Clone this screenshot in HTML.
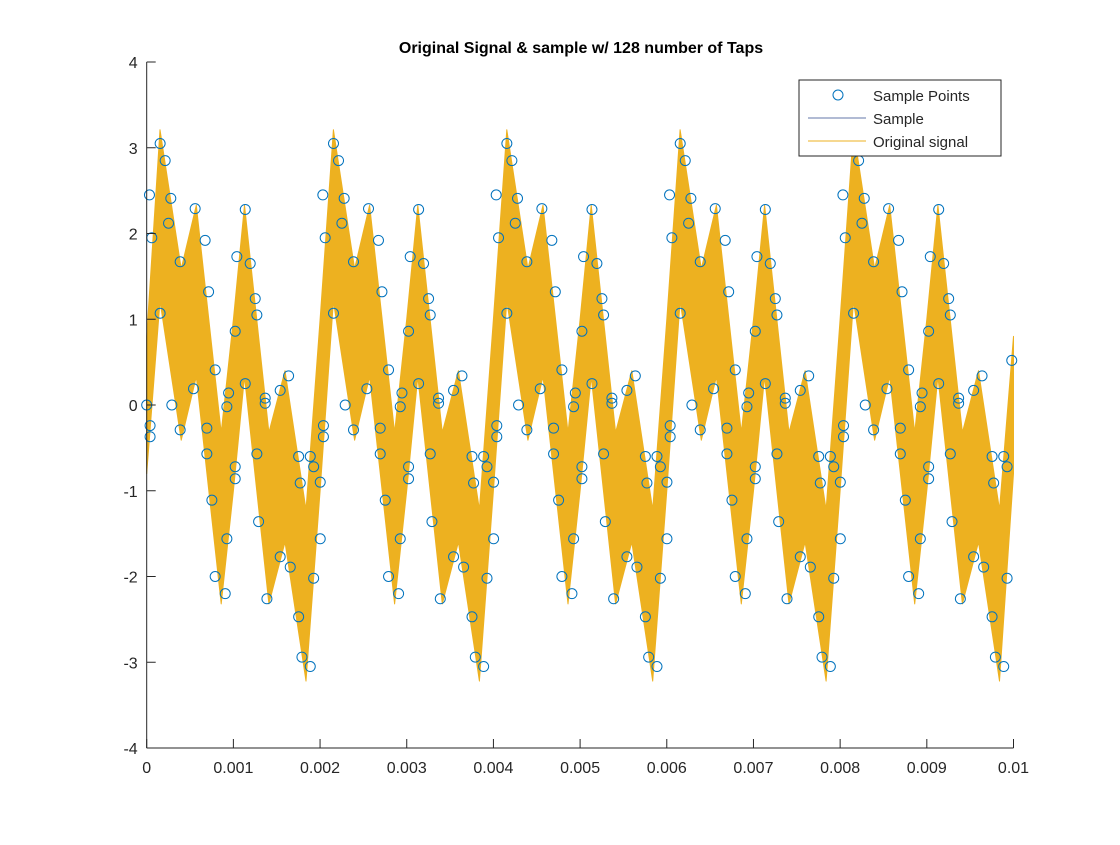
<!DOCTYPE html>
<html><head><meta charset="utf-8"><style>
body{margin:0;background:#fff;}
svg text{font-family:"Liberation Sans",Arial,sans-serif;fill:#262626;}
</style></head><body>
<svg id="chart" width="1120" height="840" viewBox="0 0 1120 840" xmlns="http://www.w3.org/2000/svg">
<rect width="1120" height="840" fill="#fff"/>
<text x="581" y="53" text-anchor="middle" font-size="16" font-weight="bold" style="fill:#000">Original Signal &amp; sample w/ 128 number of Taps</text>
<g id="plot"></g>
<g id="axes"></g>
<g>
<rect x="799" y="80" width="202" height="76" fill="#fff" stroke="#262626" stroke-width="1"/>
<g><circle cx="838" cy="95" r="5" fill="none" stroke="#0072BD" stroke-width="1"/><text x="873" y="101" font-size="15">Sample Points</text></g>
<g><line x1="808" y1="118" x2="866" y2="118" stroke="#2F4A8C" stroke-width="0.8"/><text x="873" y="124" font-size="15">Sample</text></g>
<g><line x1="808" y1="141" x2="866" y2="141" stroke="#EDB120" stroke-width="1"/><text x="873" y="147" font-size="15">Original signal</text></g>
</g>
</svg>
<script>
// one period (0.002 s) of the original signal's centre curve; phase in fraction of period
const centerPhase = [0, 0.077, 0.199, 0.286, 0.43, 0.5, 0.564, 0.705, 0.798, 0.919, 1.0];
const centerVals  = [0, 2.21, 0.59, 1.33, -1.32, 0, 1.33, -1.32, -0.6, -2.22, 0];
const bandHalfWidth = [1.0];
const periodMs = [2];
// sample points in one period (t in ms, value)
const sampleT = [2.155,2.213,2.032,2.278,2.252,2.059,2.674,2.559,2.386,3.040,3.137,3.194,2.714,2.155,3.252,3.271,3.021,2.790,2.540,3.137,2.945,3.367,3.540,3.637,
2.290,2.039,2.039,2.386,2.694,2.925,2.694,3.021,3.021,2.752,2.925,2.790,2.906,3.367,3.271,3.753,3.887,3.926,4.002,3.771,3.291,3.540,3.656,3.926,4.002,3.387,3.753,3.791,3.887];
const sampleV = [3.05,2.85,2.45,2.41,2.12,1.95,1.92,2.29,1.67,1.73,2.28,1.65,1.32,1.07,1.24,1.05,0.86,0.41,0.19,0.25,0.14,0.08,0.17,0.34,
0.00,-0.24,-0.37,-0.29,-0.27,-0.02,-0.57,-0.72,-0.86,-1.11,-1.56,-2.00,-2.20,0.02,-0.57,-0.60,-0.60,-0.72,-0.90,-0.91,-1.36,-1.77,-1.89,-2.02,-1.56,-2.26,-2.47,-2.94,-3.05];
const xTicks = [0,0.001,0.002,0.003,0.004,0.005,0.006,0.007,0.008,0.009,0.01];
const xTickLabels = ["0","0.001","0.002","0.003","0.004","0.005","0.006","0.007","0.008","0.009","0.01"];
const yTicks = [-4,-3,-2,-1,0,1,2,3,4];

const X0=146.7, X1=1013.5, Y0=748, Y1=62;
function xs(t){return X0+(t/0.01)*(X1-X0);} // t in seconds
function ys(v){return Y0-(v+4)/8*(Y0-Y1);}
const NS="http://www.w3.org/2000/svg";
const plot=document.getElementById('plot'), axes=document.getElementById('axes');

const P=periodMs[0], hw=bandHalfWidth[0];
let up=[], lo=[];
for(let k=0;k<5;k++){
  for(let i=0;i<centerPhase.length;i++){
    if(k>0&&i===0) continue;
    const t=(k+centerPhase[i])*P/1000, c=centerVals[i];
    up.push([xs(t),ys(c+hw)]); lo.push([xs(t),ys(c-hw)]);
  }
}
up[0][1]=ys(0.8); lo[0][1]=ys(-0.8);
up[up.length-1][1]=ys(0.8); lo[lo.length-1][1]=ys(-0.8);
const pts=up.concat(lo.reverse()).map(p=>p[0].toFixed(1)+','+p[1].toFixed(1)).join(' ');
const band=document.createElementNS(NS,'polygon');


band.setAttribute('points',pts);
band.setAttribute('fill','#EDB120');
band.setAttribute('stroke','#EDB120');
band.setAttribute('stroke-width','1');
band.setAttribute('stroke-linejoin','round');
plot.appendChild(band);

for(let k=0;k<5;k++){
  for(let i=0;i<sampleT.length;i++){
    const tms=sampleT[i]+(k-1)*P;
    if(tms<0||tms>10) continue;
    const c=document.createElementNS(NS,'circle');
    
    
    c.setAttribute('cx',xs(tms/1000));c.setAttribute('cy',ys(sampleV[i]));c.setAttribute('r','5');
    c.setAttribute('fill','none');c.setAttribute('stroke','#0072BD');c.setAttribute('stroke-width','1');
    plot.appendChild(c);
  }
}
[[0,0],[9.98,0.52]].forEach(p=>{const c=document.createElementNS(NS,'circle');


c.setAttribute('cx',xs(p[0]/1000));c.setAttribute('cy',ys(p[1]));c.setAttribute('r','5');
c.setAttribute('fill','none');c.setAttribute('stroke','#0072BD');plot.appendChild(c);});

function line(x1,y1,x2,y2,name){const l=document.createElementNS(NS,'line');


l.setAttribute('x1',x1);l.setAttribute('y1',y1);l.setAttribute('x2',x2);l.setAttribute('y2',y2);
l.setAttribute('stroke','#262626');l.setAttribute('stroke-width','1');axes.appendChild(l);}
line(X0,Y1,X0,Y0,'y-axis');
line(X0,Y0,X1,Y0,'x-axis');
xTicks.forEach((t,i)=>{const x=xs(t);line(x,Y0,x,Y0-9,'x-tick');
 const tx=document.createElementNS(NS,'text');
 
 
 tx.setAttribute('x',x);tx.setAttribute('y',Y0+25);tx.setAttribute('text-anchor','middle');tx.setAttribute('font-size','16');
 tx.textContent=xTickLabels[i];axes.appendChild(tx);});
yTicks.forEach(v=>{const y=ys(v);line(X0,y,X0+9,y,'y-tick');
 const tx=document.createElementNS(NS,'text');
 
 
 tx.setAttribute('x',X0-9);tx.setAttribute('y',y+6);tx.setAttribute('text-anchor','end');tx.setAttribute('font-size','16');
 tx.textContent=String(v);axes.appendChild(tx);});
</script>
</body></html>
